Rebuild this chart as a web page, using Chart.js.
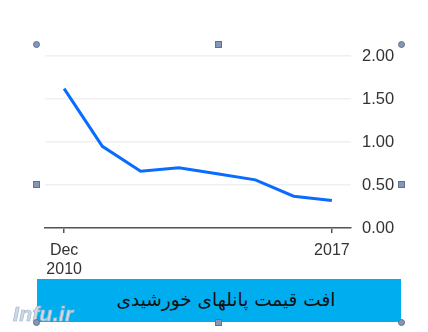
<!DOCTYPE html>
<html>
<head>
<meta charset="utf-8">
<script src="https://cdn.jsdelivr.net/npm/chart.js@4"></script>
<style>
  body { margin: 0; background: #fff; }
  #wrap { position: relative; width: 428px; height: 332px; overflow: hidden; }
  #chart { position: absolute; left: 0; top: 0; }
  .banner {
    position: absolute; left: 37px; top: 279px; width: 350px; height: 43px; padding-left: 14px;
    background: #00aeef; color: #111; text-align: center;
    font: 18.5px "DejaVu Sans", sans-serif; line-height: 41px; direction: rtl;
  }
  .h { position: absolute; width: 5px; height: 5px; background: #8497b4; border: 1px solid #5f7391; }
  .h.c { border-radius: 50%; }
  .wm {
    position: absolute; left: 13px; top: 302px; font: italic bold 21px "Liberation Sans", sans-serif;
    color: #cdd9e6; -webkit-text-stroke: 0.7px #a5b8cc; letter-spacing: 0.3px;
  }
</style>
</head>
<body>
<div id="wrap">
  <canvas id="chart" width="428" height="290"></canvas>
  <div class="banner">افت قیمت پانلهای خورشیدی</div>
  <div class="wm">Infu.ir</div>
  <div class="h c" style="left:33px;top:41px"></div>
  <div class="h" style="left:215px;top:41px"></div>
  <div class="h c" style="left:398px;top:41px"></div>
  <div class="h" style="left:33px;top:181px"></div>
  <div class="h" style="left:398px;top:181px"></div>
  <div class="h c" style="left:33px;top:319px"></div>
  <div class="h" style="left:215px;top:319px"></div>
  <div class="h c" style="left:398px;top:319px"></div>
</div>
<script>
// قیمت پانل خورشیدی (دلار به ازای هر وات)
const years = ['Dec 2010', '2011', '2012', '2013', '2014', '2015', '2016', '2017'];
const prices = [1.62, 0.95, 0.66, 0.70, 0.63, 0.56, 0.37, 0.32];
const yTicks = [0, 0.5, 1, 1.5, 2];

const ctx = document.getElementById('chart').getContext('2d');
const last = years.length - 1;

new Chart(ctx, {
  type: 'line',
  data: {
    labels: years,
    datasets: [{
      data: prices,
      borderColor: '#0a6cff',
      borderWidth: 3,
      pointRadius: 0,
      tension: 0,
      fill: false
    }]
  },
  options: {
    responsive: false,
    animation: false,
    layout: { padding: { left: 45, right: 17, top: 56, bottom: 0 } },
    plugins: { legend: { display: false }, tooltip: { enabled: false } },
    scales: {
      x: {
        offset: true,
        border: { display: true, color: '#555', width: 1.5 },
        grid: {
          drawOnChartArea: false,
          tickLength: 5,
          tickColor: (c) => (c.index === 0 || c.index === last) ? '#555' : 'rgba(0,0,0,0)',
          lineWidth: 1.5
        },
        ticks: {
          autoSkip: false,
          maxRotation: 0,
          padding: 8,
          color: '#333',
          font: { family: 'Liberation Sans', size: 16 },
          callback: (v, i) => i === 0 ? years[0].split(' ') : (i === last ? years[last] : '')
        },
        afterFit: (s) => { s.height = 62; }
      },
      y: {
        position: 'right',
        min: 0,
        max: 2,
        border: { display: false },
        grid: { color: '#f0f0f0', lineWidth: 1.5, drawTicks: false },
        afterBuildTicks: (s) => { s.ticks = yTicks.map(v => ({ value: v })); },
        ticks: {
          padding: 11,
          color: '#333',
          font: { family: 'Liberation Sans', size: 16.5 },
          callback: (v) => Number(v).toFixed(2)
        },
        afterFit: (s) => { s.width = 60; }
      }
    }
  }
});
</script>
</body>
</html>
